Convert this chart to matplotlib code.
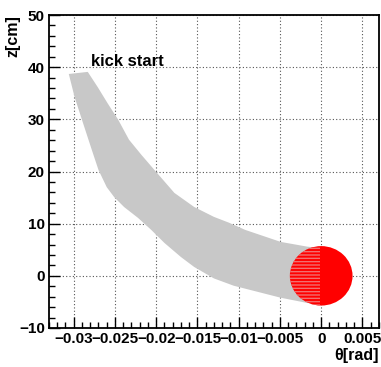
import numpy as np
import matplotlib
matplotlib.use('Agg')
import matplotlib.pyplot as plt
from matplotlib.patches import Ellipse
from matplotlib.ticker import MultipleLocator

plt.rcParams['font.family'] = ['Liberation Sans', 'DejaVu Sans']
plt.rcParams['font.weight'] = 'bold'
plt.rcParams['hatch.linewidth'] = 1.0

# gray band (kick start trajectories), edges
upper_theta = [-0.0306, -0.0283, -0.0271, -0.0259, -0.0246, -0.0233, -0.0218,
               -0.0200, -0.0178, -0.0154, -0.0130, -0.0112, -0.0092, -0.0049,
               -0.0017, 0.0]
upper_z = [38.7, 39.1, 36.2, 33.1, 29.9, 26.1, 23.2, 19.9, 15.9, 13.2, 11.3,
           10.2, 8.8, 6.5, 5.6, 5.3]
lower_theta = [-0.0306, -0.0299, -0.0290, -0.0278, -0.0270, -0.0260, -0.0251,
               -0.0239, -0.0222, -0.0206, -0.0190, -0.0170, -0.0154, -0.0130,
               -0.0106, -0.0049, -0.0017, 0.0]
lower_z = [38.7, 34.3, 29.9, 24.1, 20.3, 17.0, 15.1, 13.2, 11.1, 8.8, 6.3,
           3.6, 1.7, -0.5, -1.9, -4.2, -5.2, -5.5]

# red blob at kick end
end_theta = 0.0
end_z = 0.0
end_rtheta = 0.0038
end_rz = 5.7

xticks = [-0.03, -0.025, -0.02, -0.015, -0.01, -0.005, 0, 0.005]
xlabels = ['\u22120.03', '\u22120.025', '\u22120.02', '\u22120.015', '\u22120.01',
           '\u22120.005', '0', '0.005']
yticks = [-10, 0, 10, 20, 30, 40, 50]
ylabels = ['\u221210', '0', '10', '20', '30', '40', '50']

fig = plt.figure(figsize=(3.81, 3.67), dpi=100)
ax = fig.add_axes([0.1286, 0.1063, 0.866, 0.8527])

band_x = upper_theta + lower_theta[::-1]
band_z = upper_z + lower_z[::-1]
ax.fill(band_x, band_z, color='#c8c8c8', lw=0, zorder=2)

ax.add_patch(Ellipse((end_theta, end_z), 2 * end_rtheta, 2 * end_rz,
                     facecolor='#ff0000', edgecolor='none', zorder=3))
# streaky left half of the blob
streaks = Ellipse((end_theta, end_z), 2 * end_rtheta, 2 * end_rz,
                  facecolor='none', edgecolor='#f07070', hatch='-----',
                  lw=0, zorder=3)
ax.add_patch(streaks)
streaks.set_clip_path(
    plt.Rectangle((end_theta - end_rtheta, end_z - end_rz), end_rtheta * 0.95,
                  2 * end_rz, transform=ax.transData))

ax.text(-0.0279, 41, 'kick start', fontsize=12, fontweight='bold',
        ha='left', va='center', zorder=4)

ax.set_xlim(-0.033, 0.007)
ax.set_ylim(-10, 50)
ax.set_xticks(xticks)
ax.set_xticklabels(xlabels)
ax.set_yticks(yticks)
ax.set_yticklabels(ylabels)
ax.xaxis.set_minor_locator(MultipleLocator(0.001))
ax.yaxis.set_minor_locator(MultipleLocator(2))
ax.tick_params(which='both', direction='in', top=False, right=False,
               labelsize=11, pad=3)
ax.tick_params(which='major', length=8, width=1)
ax.tick_params(which='minor', length=4, width=1)
ax.grid(True, which='major', color='#555555', linestyle=(0, (1, 2)), lw=0.8, zorder=1)
ax.set_axisbelow(True)
for s in ax.spines.values():
    s.set_linewidth(1.3)

fig.text(0.995, 0.03, '\u03b8[rad]', fontsize=11.5, fontweight='bold',
         ha='right', va='center')
fig.text(0.035, 0.959, 'z[cm]', fontsize=11.5, fontweight='bold',
         ha='center', va='top', rotation=90)

fig.savefig('out.png', dpi=100)
